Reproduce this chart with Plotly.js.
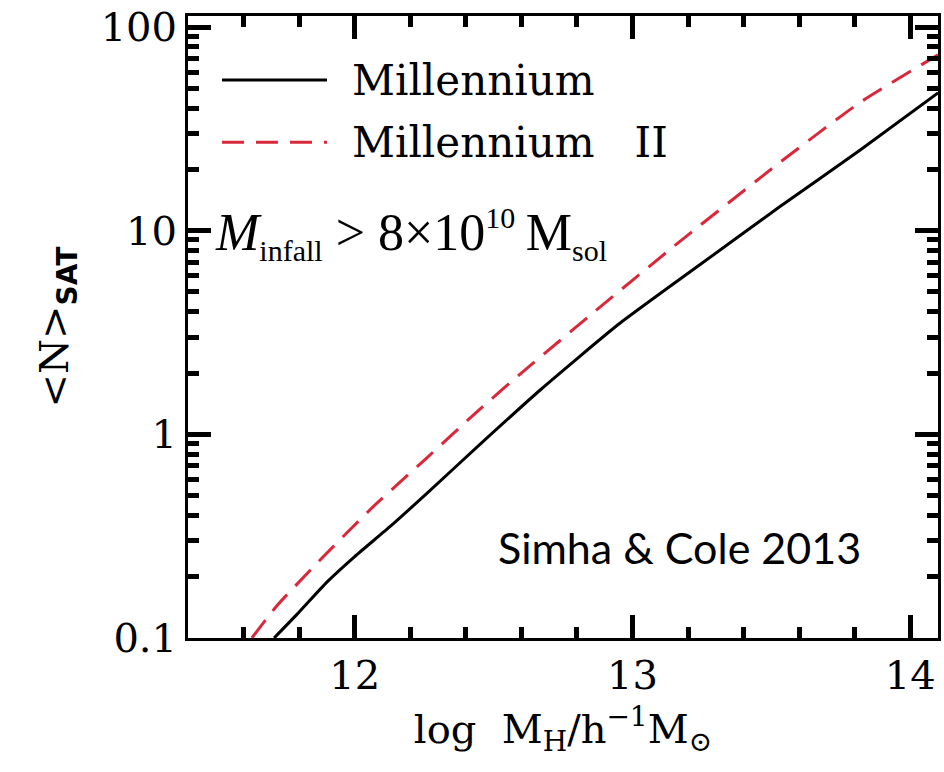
<!DOCTYPE html>
<html>
<head>
<meta charset="utf-8">
<script src="https://cdn.plot.ly/plotly-3.0.1.min.js"></script>
<style>html,body{margin:0;padding:0;background:#fff;}#chart{width:944px;height:772px;}</style>
</head>
<body>
<div id="chart"></div>
<script>
// Millennium (solid black)
const millLogM = [11.71, 11.80, 11.90, 12.00, 12.13, 12.26, 12.45, 12.67, 12.95, 13.24, 13.53, 13.82, 14.10];
const millN    = [0.100, 0.134, 0.188, 0.251, 0.355, 0.513, 0.89, 1.66, 3.47, 6.76, 13.1, 24.9, 47.5];
// Millennium II (red dashed)
const mill2LogM = [11.63, 11.72, 11.885, 12.065, 12.26, 12.44, 12.60, 12.87, 13.15, 13.53, 13.82, 14.10];
const mill2N    = [0.100, 0.144, 0.249, 0.439, 0.767, 1.29, 2.0, 4.07, 8.4, 21.6, 42.7, 73];
const seriesNames = ["Millennium", "Millennium\u00a0\u00a0\u00a0II"];

const RED = '#d8283a';
const INK = '#000000';
const serif = '"DejaVu Serif", serif';

const traces = [
  {x: millLogM, y: millN, name: seriesNames[0], mode: 'lines', line: {color: '#000', width: 3, shape: 'spline', smoothing: 0.5}},
  {x: mill2LogM, y: mill2N, name: seriesNames[1], mode: 'lines', line: {color: RED, width: 3, dash: '22px,12px', shape: 'spline', smoothing: 0.5}}
];

const axisCommon = {
  showline: true, linecolor: '#000', linewidth: 3, mirror: 'allticks',
  ticks: 'inside', tickcolor: INK, tickwidth: 5, ticklen: 23,
  showgrid: false, zeroline: false,
  tickfont: {family: serif, size: 40, color: '#000'}
};

const layout = {
  width: 944, height: 772,
  margin: {l: 188, r: 6, t: 16, b: 134},
  paper_bgcolor: '#fff', plot_bgcolor: '#fff',
  showlegend: false,
  xaxis: Object.assign({}, axisCommon, {
    range: [11.4, 14.1], tickmode: 'linear', tick0: 0, dtick: 1,
    minor: {dtick: 0.2, tick0: 0, ticks: 'inside', ticklen: 11, tickwidth: 5, tickcolor: INK, showgrid: false},
    title: {text: 'log\u00a0\u00a0M<sub>H</sub>/h<sup>\u22121</sup>M<sub>\u2299</sub>', font: {family: serif, size: 40, color: '#000'}, standoff: 18}
  }),
  yaxis: Object.assign({}, axisCommon, {
    type: 'log', range: [-1, 2.054], tickmode: 'linear', tick0: 0, dtick: 1,
    minor: {dtick: 'D1', ticks: 'inside', ticklen: 11, tickwidth: 5, tickcolor: INK, showgrid: false},
    title: {text: '&lt;N&gt;<sub><span style="font-family:\'DejaVu Sans\';font-weight:bold">SAT</span></sub>', font: {family: serif, size: 40, color: '#000'}, standoff: 20}
  }),
  shapes: [
    {type: 'line', xref: 'paper', yref: 'paper', x0: 0.0453, x1: 0.1853, y0: 0.897, y1: 0.897, line: {color: '#000', width: 3}},
    {type: 'line', xref: 'paper', yref: 'paper', x0: 0.0453, x1: 0.1853, y0: 0.797, y1: 0.797, line: {color: RED, width: 3, dash: '22px,12px'}}
  ],
  annotations: [
    {xref: 'paper', yref: 'paper', x: 0.216, y: 0.897, xanchor: 'left', yanchor: 'middle', showarrow: false,
     text: seriesNames[0], font: {family: serif, size: 42, color: '#000'}},
    {xref: 'paper', yref: 'paper', x: 0.216, y: 0.797, xanchor: 'left', yanchor: 'middle', showarrow: false,
     text: seriesNames[1], font: {family: serif, size: 42, color: '#000'}},
    {xref: 'paper', yref: 'paper', x: 0.033, y: 0.65, xanchor: 'left', yanchor: 'middle', showarrow: false,
     text: '<i>M</i><sub><span style="font-size:30px">infall</span></sub> &gt; 8\u00d710<sup><span style="font-size:30px">10</span></sup>\u2009M<sub><span style="font-size:30px">sol</span></sub>',
     font: {family: '"Liberation Serif", serif', size: 52, color: '#000'}},
    {xref: 'paper', yref: 'paper', x: 0.655, y: 0.145, xanchor: 'center', yanchor: 'middle', showarrow: false,
     text: 'Simha &amp; Cole 2013', font: {family: 'Lato, "Open Sans", sans-serif', size: 43, color: '#000'}}
  ]
};

Plotly.newPlot('chart', traces, layout, {displayModeBar: false, staticPlot: true});
</script>
</body>
</html>
